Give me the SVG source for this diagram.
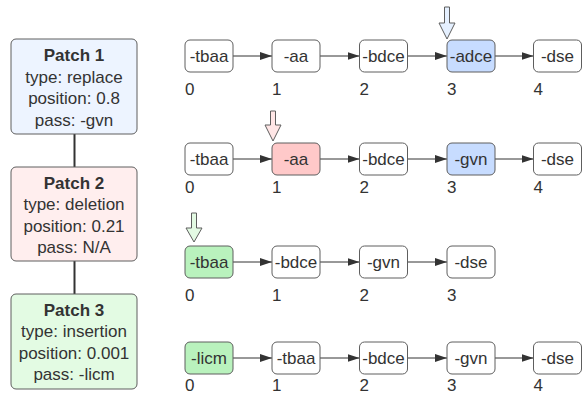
<svg xmlns="http://www.w3.org/2000/svg" width="582" height="396" viewBox="0 0 582 396">
<defs>
<style>
text{font-family:"Liberation Sans",Arial,sans-serif;font-size:17px;fill:#333333}
.t{text-anchor:middle}
.b{font-weight:bold}
.patch{stroke:#5e5e5e;stroke-width:1}
.node{fill:#ffffff;stroke:#5e5e5e;stroke-width:1}
.edge{stroke:#333333;stroke-width:1;fill:none}
.link{stroke:#333333;stroke-width:2;fill:none}
.ptr{stroke:#5e5e5e;stroke-width:1}
</style>
<marker id="ah" viewBox="0 0 12 8" refX="12" refY="4" markerWidth="12" markerHeight="8" markerUnits="userSpaceOnUse" orient="auto">
<path d="M0,0 L12,4 L0,8 Z" fill="#333333"/>
</marker>
</defs>
<rect width="582" height="396" fill="#ffffff"/>

<g id="connectors">
<line class="link" x1="74.5" y1="134" x2="74.5" y2="167"/>
<line class="link" x1="74.5" y1="261" x2="74.5" y2="294"/>
<!-- row 1 -->
<line class="edge" x1="233" y1="56" x2="272" y2="56" marker-end="url(#ah)"/>
<line class="edge" x1="320" y1="56" x2="359.5" y2="56" marker-end="url(#ah)"/>
<line class="edge" x1="407.5" y1="56" x2="447" y2="56" marker-end="url(#ah)"/>
<line class="edge" x1="495" y1="56" x2="533.5" y2="56" marker-end="url(#ah)"/>
<!-- row 2 -->
<line class="edge" x1="233" y1="159" x2="272" y2="159" marker-end="url(#ah)"/>
<line class="edge" x1="320" y1="159" x2="359.5" y2="159" marker-end="url(#ah)"/>
<line class="edge" x1="407.5" y1="159" x2="447" y2="159" marker-end="url(#ah)"/>
<line class="edge" x1="495" y1="159" x2="533.5" y2="159" marker-end="url(#ah)"/>
<!-- row 3 -->
<line class="edge" x1="233" y1="262" x2="272" y2="262" marker-end="url(#ah)"/>
<line class="edge" x1="320" y1="262" x2="359.5" y2="262" marker-end="url(#ah)"/>
<line class="edge" x1="407.5" y1="262" x2="447" y2="262" marker-end="url(#ah)"/>
<!-- row 4 -->
<line class="edge" x1="233" y1="358" x2="272" y2="358" marker-end="url(#ah)"/>
<line class="edge" x1="320" y1="358" x2="359.5" y2="358" marker-end="url(#ah)"/>
<line class="edge" x1="407.5" y1="358" x2="447" y2="358" marker-end="url(#ah)"/>
<line class="edge" x1="495" y1="358" x2="533.5" y2="358" marker-end="url(#ah)"/>
</g>

<g id="patch1">
<rect class="patch" x="11" y="39" width="126" height="95" rx="5" fill="#edf4ff"/>
<text class="t b" x="74" y="61">Patch 1</text>
<text class="t" x="74" y="82.5">type: replace</text>
<text class="t" x="74" y="104">position: 0.8</text>
<text class="t" x="74" y="125.5">pass: -gvn</text>
</g>
<g id="patch2">
<rect class="patch" x="11" y="167" width="126" height="94" rx="5" fill="#ffeeee"/>
<text class="t b" x="74" y="188.5">Patch 2</text>
<text class="t" x="74" y="210">type: deletion</text>
<text class="t" x="74" y="231.5">position: 0.21</text>
<text class="t" x="74" y="253">pass: N/A</text>
</g>
<g id="patch3">
<rect class="patch" x="11" y="294" width="126" height="95" rx="5" fill="#e3fbe3"/>
<text class="t b" x="74" y="315.5">Patch 3</text>
<text class="t" x="74" y="337">type: insertion</text>
<text class="t" x="74" y="358.5">position: 0.001</text>
<text class="t" x="74" y="380">pass: -licm</text>
</g>

<!-- Row 1 -->
<g id="r1n0"><rect class="node" x="185" y="40" width="48" height="32" rx="5"/><text class="t" x="209" y="62">-tbaa</text><text x="185" y="95">0</text></g>
<g id="r1n1"><rect class="node" x="272" y="40" width="48" height="32" rx="5"/><text class="t" x="296" y="62">-aa</text><text x="272" y="95">1</text></g>
<g id="r1n2"><rect class="node" x="359.5" y="40" width="48" height="32" rx="5"/><text class="t" x="383.5" y="62">-bdce</text><text x="359.5" y="95">2</text></g>
<g id="r1n3"><rect class="node" x="447" y="40" width="48" height="32" rx="5" style="fill:#c7dcff"/><text class="t" x="471" y="62">-adce</text><text x="447" y="95">3</text></g>
<g id="r1n4"><rect class="node" x="533.5" y="40" width="48" height="32" rx="5"/><text class="t" x="557.5" y="62">-dse</text><text x="533.5" y="95">4</text></g>
<g id="ptr1"><path class="ptr" d="M444.5,7 L449.5,7 L449.5,23 L455,23 L447,39 L439,23 L444.5,23 Z" fill="#e5f0ff"/></g>

<!-- Row 2 -->
<g id="r2n0"><rect class="node" x="185" y="143" width="48" height="32" rx="5"/><text class="t" x="209" y="165">-tbaa</text><text x="185" y="193">0</text></g>
<g id="r2n1"><rect class="node" x="272" y="143" width="48" height="32" rx="5" style="fill:#ffc9c9"/><text class="t" x="296" y="165">-aa</text><text x="272" y="193">1</text></g>
<g id="r2n2"><rect class="node" x="359.5" y="143" width="48" height="32" rx="5"/><text class="t" x="383.5" y="165">-bdce</text><text x="359.5" y="193">2</text></g>
<g id="r2n3"><rect class="node" x="447" y="143" width="48" height="32" rx="5" style="fill:#c7dcff"/><text class="t" x="471" y="165">-gvn</text><text x="447" y="193">3</text></g>
<g id="r2n4"><rect class="node" x="533.5" y="143" width="48" height="32" rx="5"/><text class="t" x="557.5" y="165">-dse</text><text x="533.5" y="193">4</text></g>
<g id="ptr2"><path class="ptr" d="M270.5,111 L275.5,111 L275.5,125 L281,125 L273,141 L265,125 L270.5,125 Z" fill="#ffe6e6"/></g>

<!-- Row 3 -->
<g id="r3n0"><rect class="node" x="185" y="246" width="48" height="32" rx="5" style="fill:#b9f2bd"/><text class="t" x="209" y="268">-tbaa</text><text x="185" y="301">0</text></g>
<g id="r3n1"><rect class="node" x="272" y="246" width="48" height="32" rx="5"/><text class="t" x="296" y="268">-bdce</text><text x="272" y="301">1</text></g>
<g id="r3n2"><rect class="node" x="359.5" y="246" width="48" height="32" rx="5"/><text class="t" x="383.5" y="268">-gvn</text><text x="359.5" y="301">2</text></g>
<g id="r3n3"><rect class="node" x="447" y="246" width="48" height="32" rx="5"/><text class="t" x="471" y="268">-dse</text><text x="447" y="301">3</text></g>
<g id="ptr3"><path class="ptr" d="M191.5,213 L196.5,213 L196.5,228 L202,228 L194,242 L186,228 L191.5,228 Z" fill="#e3fae3"/></g>

<!-- Row 4 -->
<g id="r4n0"><rect class="node" x="185" y="342" width="48" height="32" rx="5" style="fill:#b9f2bd"/><text class="t" x="209" y="364">-licm</text><text x="185" y="391">0</text></g>
<g id="r4n1"><rect class="node" x="272" y="342" width="48" height="32" rx="5"/><text class="t" x="296" y="364">-tbaa</text><text x="272" y="391">1</text></g>
<g id="r4n2"><rect class="node" x="359.5" y="342" width="48" height="32" rx="5"/><text class="t" x="383.5" y="364">-bdce</text><text x="359.5" y="391">2</text></g>
<g id="r4n3"><rect class="node" x="447" y="342" width="48" height="32" rx="5"/><text class="t" x="471" y="364">-gvn</text><text x="447" y="391">3</text></g>
<g id="r4n4"><rect class="node" x="533.5" y="342" width="48" height="32" rx="5"/><text class="t" x="557.5" y="364">-dse</text><text x="533.5" y="391">4</text></g>
</svg>
